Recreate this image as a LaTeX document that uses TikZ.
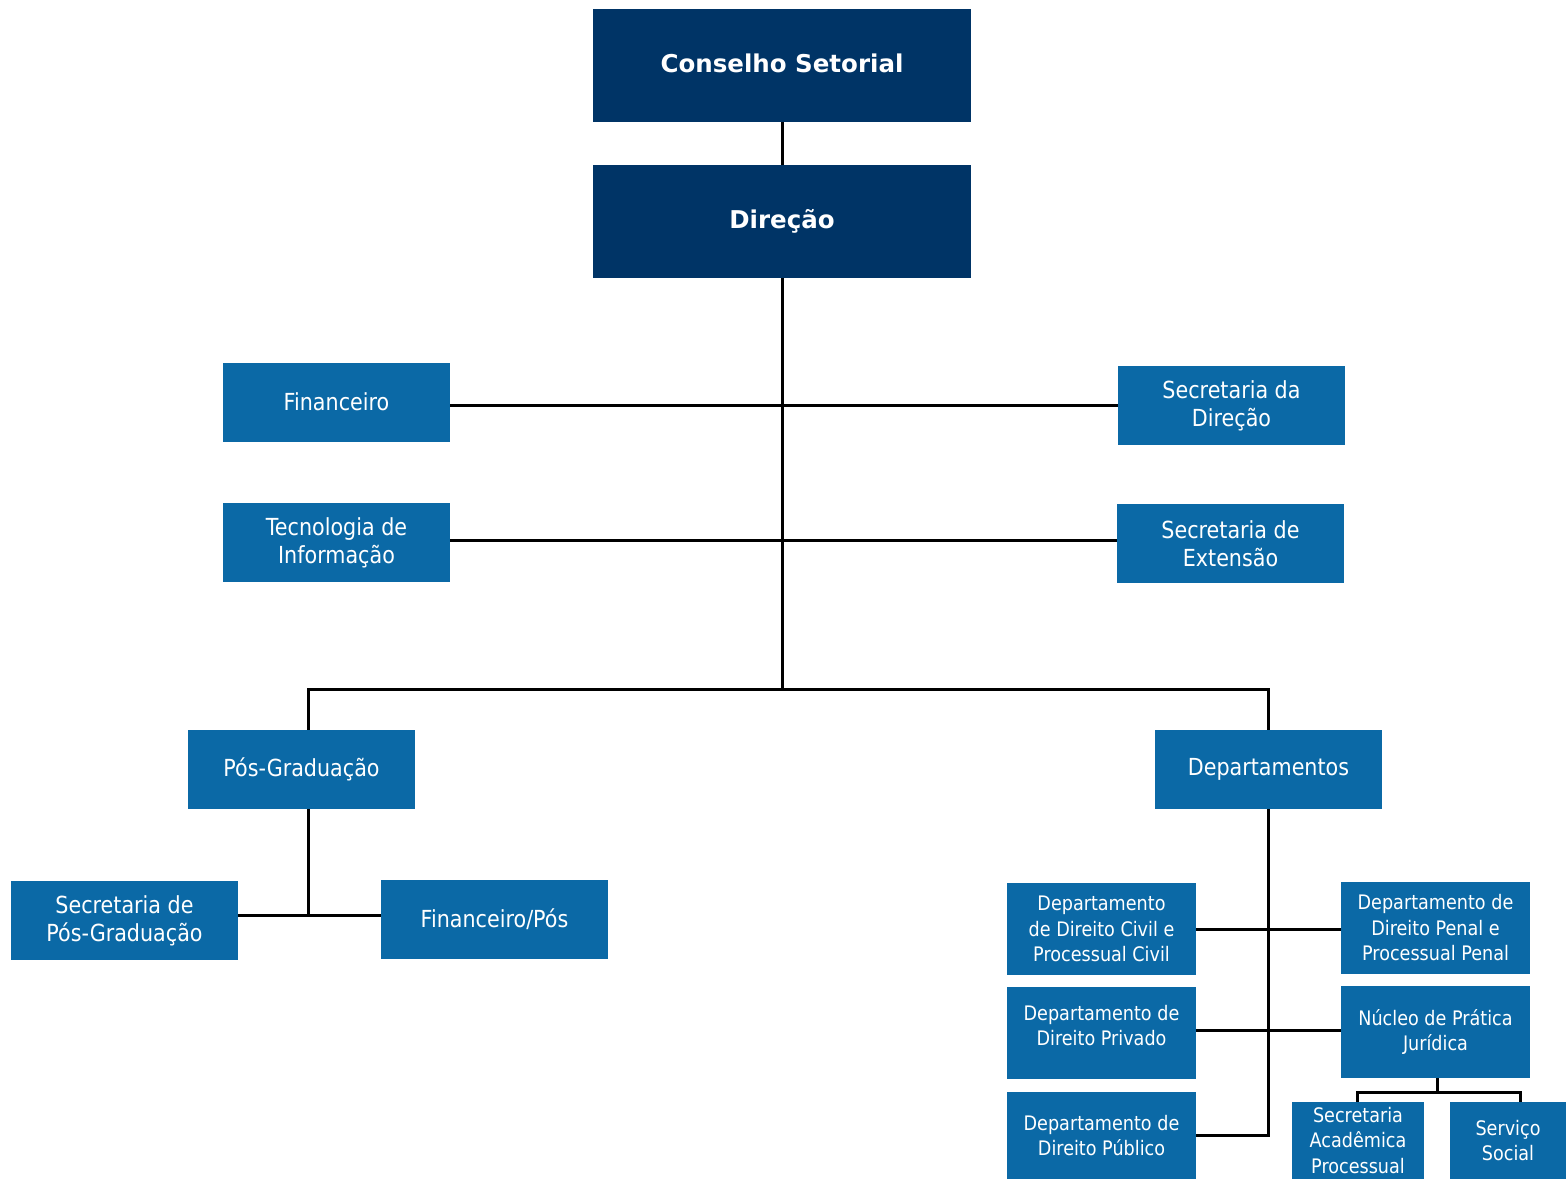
\documentclass[tikz,border=0pt]{standalone}
\usepackage{fontspec}
\setmainfont{DejaVu Sans}[FakeStretch=0.88]
\newfontfamily\titlefont{DejaVu Sans}
\definecolor{navy}{RGB}{0,52,102}
\definecolor{mblue}{RGB}{11,105,166}
\begin{document}
\begin{tikzpicture}[x=1pt,y=-1pt,
  topbox/.style={fill=navy,text=white,inner sep=0pt,align=center,
    font=\titlefont\bfseries\fontsize{24.5}{29}\selectfont,minimum width=378,minimum height=113},
  box/.style={fill=mblue,text=white,inner sep=0pt,align=center,
    font=\fontsize{23.5}{28}\selectfont,minimum width=227,minimum height=79},
  sbox/.style={fill=mblue,text=white,inner sep=0pt,align=center,
    font=\fontsize{20}{25.5}\selectfont},
  conn/.style={line width=3pt,black}]
\fill[white] (0,0) rectangle (1566,1179);
\path[use as bounding box] (0,0) rectangle (1566,1179);

\node[topbox] (cons) at (782,65.5) {\raisebox{4pt}{Conselho Setorial}};
\node[topbox] (dir) at (782,221.5) {\raisebox{3pt}{Direção}};

\node[box] (fin) at (336.5,402.5) {\raisebox{2pt}{Financeiro}};
\node[box] (secdir) at (1231.5,405.5) {Secretaria da\\Direção};
\node[box] (tec) at (336.5,542.5) {Tecnologia de\\Informação};
\node[box] (secext) at (1230.5,543.5) {Secretaria de\\Extensão};

\node[box] (pos) at (301.5,769.5) {\raisebox{2pt}{Pós-Graduação}};
\node[box] (dep) at (1268.5,769.5) {\raisebox{1pt}{Departamentos}};
\node[box] (secpos) at (124.5,920.5) {Secretaria de\\Pós-Graduação};
\node[box] (finpos) at (494.5,919.5) {Financeiro/Pós};

\node[sbox,minimum width=189,minimum height=92] (dcivil) at (1101.5,929) {Departamento\\de Direito Civil e\\Processual Civil};
\node[sbox,minimum width=189,minimum height=92] (dpenal) at (1435.5,928) {Departamento de\\Direito Penal e\\Processual Penal};
\node[sbox,minimum width=189,minimum height=92,
  label={[sbox,yshift=7pt]center:Departamento de\\Direito Privado}] (dpriv) at (1101.5,1032.5) {};
\node[sbox,minimum width=189,minimum height=92] (nucleo) at (1435.5,1032) {Núcleo de Prática\\Jurídica};
\node[sbox,minimum width=189,minimum height=87] (dpub) at (1101.5,1135.5) {Departamento de\\Direito Público};
\node[sbox,minimum width=132,minimum height=77] (secac) at (1358,1140.5) {Secretaria\\Acadêmica\\Processual};
\node[sbox,minimum width=116,minimum height=77] (serv) at (1508,1140.5) {Serviço\\Social};

\coordinate (spine) at (782,689);
\coordinate (posj) at (308,689);
\coordinate (depj) at (1268,689);
\coordinate (posk) at (308,915);
\coordinate (depk) at (1268,1135);
\coordinate (nj) at (1437,1092);
\coordinate (nl) at (1357,1092);
\coordinate (nr) at (1520,1092);

\draw[conn] (cons.south) -- (dir.north);
\draw[conn] (dir.south) -- (spine);
\draw[conn] (fin.east |- secdir.west) -- (secdir.west);
\draw[conn] (tec.east) ++(0,-2.5) -- ++(667,0);
\draw[conn] (pos.north -| posj) -- (posj) -- (depj) -- (dep.north -| depj);
\draw[conn] (pos.south -| posk) -- (posk);
\draw[conn] (secpos.east |- posk) -- (finpos.west |- posk);
\draw[conn] (dep.south -| depk) -- (depk) -- (dpub.east |- depk);
\draw[conn] (dcivil.east) -- (dcivil.east -| dpenal.west);
\draw[conn] (dpriv.east |- 0,1030) -- (nucleo.west |- 0,1030);
\draw[conn] (nucleo.south -| nj) -- (nj);
\draw[conn] (secac.north -| nl) -- (nl) -- (nr) -- (serv.north -| nr);
\end{tikzpicture}
\end{document}
